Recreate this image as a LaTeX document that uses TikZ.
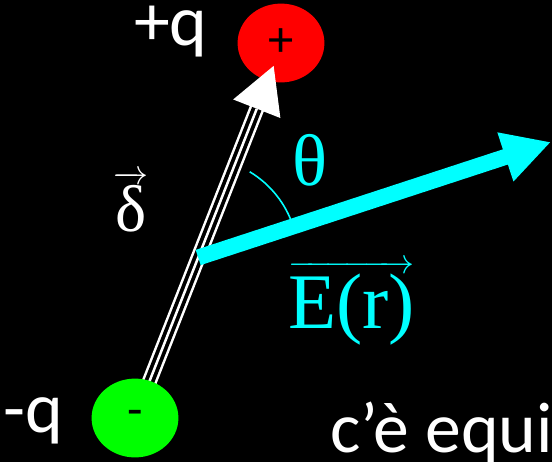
\documentclass[tikz,border=0pt]{standalone}
\usepackage{fontspec}
\usepackage{amsmath}
\setmainfont{Carlito}
\newfontfamily\serifgr{Liberation Serif}
\usetikzlibrary{arrows.meta,shapes.geometric,calc}
\definecolor{efield}{RGB}{0,255,255}
\definecolor{qpos}{RGB}{255,0,0}
\definecolor{qneg}{RGB}{0,255,0}
% vettore: freccia piccola sopra testo grande
\newcommand{\ovec}[2]{{\fontsize{24.88}{26}\selectfont$\overrightarrow{\hbox{\fontsize{#1}{#1}\selectfont\serifgr #2}}$}}
\begin{document}
\begin{tikzpicture}[x=0.025cm, y=-0.025cm, font=\fontsize{51}{56}\selectfont]
  \tikzset{charge/.style={ellipse, minimum width=2.17cm, minimum height=1.97cm, inner sep=0pt, text depth=-0.1cm, font=\fontsize{36}{40}\selectfont}}
  \useasboundingbox (0,0) rectangle (552,462);
  \fill[black] (0,0) rectangle (552,462);
  \node[charge, fill=qpos] (pos) at (281,43) {+};
  \coordinate (negc) at (135,418);
  \coordinate (tip) at (274,65);
  \coordinate (O) at ($(negc)!0.4547!(tip)$);
  \coordinate (Etip) at (551,142);
  % dipolo
  \draw[white, line width=0.375cm, -{Triangle[length=1.175cm, width=1.175cm]}] (negc) -- (tip);
  \draw[black, line width=0.25cm, shorten >=1.175cm] (negc) -- (tip);
  \draw[white, line width=0.0625cm, shorten >=1.175cm] (negc) -- (tip);
  \node[charge, fill=qneg] (neg) at (negc) {-};
  % campo
  \draw[efield, line width=0.04cm] (O) ++(-59:100) arc (-59:-18:100);
  \draw[efield, line width=0.4cm, -{Triangle[length=1.2cm, width=1.2cm]}] (O) -- (Etip);
  % etichette
  \node[anchor=base west, inner sep=0pt, white] (lpos) at (134,45) {+q};
  \node[anchor=base west, inner sep=0pt, white] (lneg) at (3,432) {-q};
  \node[anchor=base, inner sep=0pt, white] (delta) at (131,231) {\ovec{47}{δ}};
  \node[inner sep=0pt, efield, font=\fontsize{52}{52}\selectfont\serifgr] (theta) at (310,160) {θ};
  \node[anchor=base west, inner sep=0pt, efield] (field) at (288,328) {\ovec{56}{E(r)}};
  \node[anchor=base west, inner sep=0pt, white] (note) at (330,452) {c’è equi};
\end{tikzpicture}
\end{document}
